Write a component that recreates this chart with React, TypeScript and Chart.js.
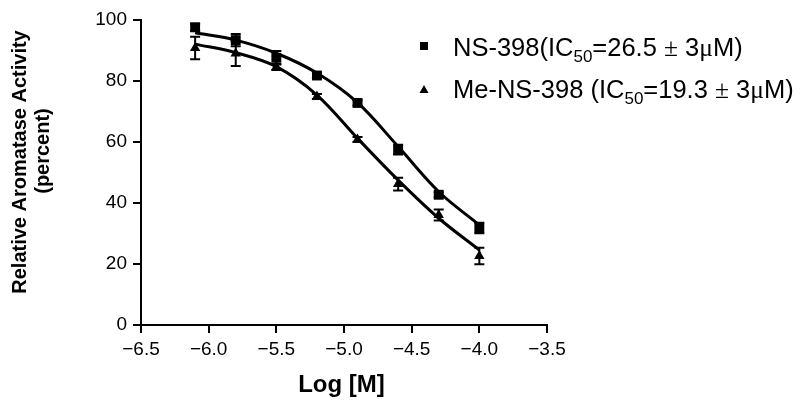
import React, { useEffect, useRef } from "react";
import { Chart, registerables } from "chart.js";

Chart.register(...registerables);

// ---- data ----
const logConc = [-6.1, -5.8, -5.5, -5.2, -4.9, -4.6, -4.3, -4.0];
const ns398 = [97.6, 93.4, 87.6, 81.8, 72.8, 57.5, 42.7, 31.8];
const ns398Err = [1.2, 2.0, 2.2, 0.8, 0.8, 1.6, 0.8, 1.7];
const meNs398 = [90.8, 89.0, 84.6, 74.9, 60.8, 46.2, 36.1, 22.6];
const meNs398Err = [3.7, 4.1, 1.0, 0.8, 0.8, 2.1, 1.8, 2.7];

// fitted curves
const fitX = [-6.1, -5.8, -5.5, -5.2, -4.9, -4.6, -4.3, -4.0];
const ns398Fit = [95.8, 93.4, 89.1, 82.6, 72.9, 58.5, 43.7, 32.8];
const meNs398Fit = [92.1, 89.3, 84.7, 75.4, 61.2, 47.5, 35.0, 24.6];

const xTicks = [-6.5, -6.0, -5.5, -5.0, -4.5, -4.0, -3.5];
const yTicks = [0, 20, 40, 60, 80, 100];

const xTitle = "Log [M]";
const yTitle = ["Relative Aromatase Activity", "(percent)"];

const legend1 = [
  { t: "NS-398(IC", f: "sans" },
  { t: "50", f: "sub" },
  { t: "=26.5 ", f: "sans" },
  { t: "\u00b1", f: "serif" },
  { t: " 3", f: "sans" },
  { t: "\u03bc", f: "serif" },
  { t: "M)", f: "sans" },
];
const legend2 = [
  { t: "Me-NS-398 (IC", f: "sans" },
  { t: "50", f: "sub" },
  { t: "=19.3 ", f: "sans" },
  { t: "\u00b1", f: "serif" },
  { t: " 3", f: "sans" },
  { t: "\u03bc", f: "serif" },
  { t: "M)", f: "sans" },
];

const SANS = "'Liberation Sans', Arial, sans-serif";
const SERIF = "'Liberation Serif', 'Times New Roman', serif";

const pts = (xs: number[], ys: number[]) => xs.map((x, i) => ({ x, y: ys[i] }));
const fmtTick = (v: number) => (v < 0 ? "\u2212" + Math.abs(v).toFixed(1) : v.toFixed(1));

const errorBarPlugin = {
  id: "errorBars",
  afterDatasetsDraw(chart: any) {
    const ctx = chart.ctx;
    const xs = chart.scales.x;
    const ys = chart.scales.y;
    ctx.save();
    ctx.strokeStyle = "#000";
    ctx.lineWidth = 2;
    chart.data.datasets.forEach((ds: any) => {
      if (!ds.errors) return;
      ds.data.forEach((p: any, i: number) => {
        const e = ds.errors[i];
        if (!e) return;
        const px = xs.getPixelForValue(p.x);
        const top = ys.getPixelForValue(p.y + e);
        const bot = ys.getPixelForValue(p.y - e);
        ctx.beginPath();
        ctx.moveTo(px, top);
        ctx.lineTo(px, bot);
        ctx.moveTo(px - 5, top);
        ctx.lineTo(px + 5, top);
        ctx.moveTo(px - 5, bot);
        ctx.lineTo(px + 5, bot);
        ctx.stroke();
      });
    });
    ctx.restore();
  },
};

const drawSegments = (ctx: any, segs: any[], x: number, y: number) => {
  let cx = x;
  segs.forEach((s) => {
    let dy = 0;
    if (s.f === "sans") ctx.font = `25.5px ${SANS}`;
    else if (s.f === "serif") ctx.font = `25.5px ${SERIF}`;
    else {
      ctx.font = `17px ${SANS}`;
      dy = 6;
    }
    ctx.fillText(s.t, cx, y + dy);
    cx += ctx.measureText(s.t).width;
  });
};

const annotationsPlugin = {
  id: "annotations",
  afterDraw(chart: any) {
    const ctx = chart.ctx;
    ctx.save();
    ctx.fillStyle = "#000";
    ctx.textBaseline = "alphabetic";

    // x title
    ctx.textAlign = "center";
    ctx.font = `bold 24px ${SANS}`;
    ctx.fillText(xTitle, 341.5, 392);

    // y title (rotated)
    ctx.font = `bold 20px ${SANS}`;
    const yPos = [
      { bx: 26, cy: 162 },
      { bx: 49, cy: 151 },
    ];
    yTitle.forEach((t, i) => {
      ctx.save();
      ctx.translate(yPos[i].bx, yPos[i].cy);
      ctx.rotate(-Math.PI / 2);
      ctx.fillText(t, 0, 0);
      ctx.restore();
    });

    // legend
    ctx.textAlign = "left";
    ctx.fillRect(420, 42, 8, 8);
    ctx.beginPath();
    ctx.moveTo(424, 85);
    ctx.lineTo(428.5, 93);
    ctx.lineTo(419.5, 93);
    ctx.closePath();
    ctx.fill();
    drawSegments(ctx, legend1, 453, 56);
    drawSegments(ctx, legend2, 453, 98);
    ctx.restore();
  },
};

export default function App() {
  const ref = useRef<HTMLCanvasElement | null>(null);

  useEffect(() => {
    document.body.style.margin = "0";
    const canvas = ref.current;
    if (!canvas) return;
    const axisCommon = {
      grid: {
        display: true,
        drawOnChartArea: false,
        drawTicks: true,
        tickLength: 8,
        color: "#000",
        lineWidth: 2,
      },
      border: { display: true, color: "#000", width: 2 },
    };
    const fitStyle = {
      showLine: true,
      borderColor: "#000",
      borderWidth: 3,
      pointRadius: 0,
      tension: 0.35,
    };
    const chart = new Chart(canvas, {
      type: "scatter",
      data: {
        datasets: [
          { label: "NS-398 fit", data: pts(fitX, ns398Fit), ...fitStyle } as any,
          { label: "Me-NS-398 fit", data: pts(fitX, meNs398Fit), ...fitStyle } as any,
          {
            label: "NS-398",
            data: pts(logConc, ns398),
            errors: ns398Err,
            pointStyle: "rect",
            pointRadius: 7,
            backgroundColor: "#000",
            borderColor: "#000",
            borderWidth: 0,
          } as any,
          {
            label: "Me-NS-398",
            data: pts(logConc, meNs398),
            errors: meNs398Err,
            pointStyle: "triangle",
            pointRadius: 6,
            backgroundColor: "#000",
            borderColor: "#000",
            borderWidth: 0,
          } as any,
        ],
      },
      options: {
        responsive: false,
        animation: false,
        devicePixelRatio: 1,
        layout: { padding: { top: 20, right: 253, left: 0, bottom: 0 } },
        plugins: { legend: { display: false }, tooltip: { enabled: false } },
        scales: {
          x: {
            type: "linear",
            min: -6.5,
            max: -3.5,
            afterBuildTicks: (s: any) => {
              s.ticks = xTicks.map((v) => ({ value: v }));
            },
            afterFit: (s: any) => {
              s.height = 89;
            },
            ticks: {
              callback: (v: any) => fmtTick(Number(v)),
              color: "#000",
              font: { family: SANS, size: 19 },
              padding: 5,
              maxRotation: 0,
            },
            ...axisCommon,
          },
          y: {
            type: "linear",
            min: 0,
            max: 100,
            afterBuildTicks: (s: any) => {
              s.ticks = yTicks.map((v) => ({ value: v }));
            },
            afterFit: (s: any) => {
              s.width = 141;
            },
            ticks: {
              callback: (v: any) => String(v),
              color: "#000",
              font: { family: SANS, size: 19 },
              padding: 6,
            },
            ...axisCommon,
          },
        },
      } as any,
      plugins: [errorBarPlugin, annotationsPlugin],
    });
    return () => chart.destroy();
  }, []);

  return (
    <div style={{ width: 800, height: 414, background: "#fff" }}>
      <canvas ref={ref} width={800} height={414} style={{ display: "block" }} />
    </div>
  );
}
